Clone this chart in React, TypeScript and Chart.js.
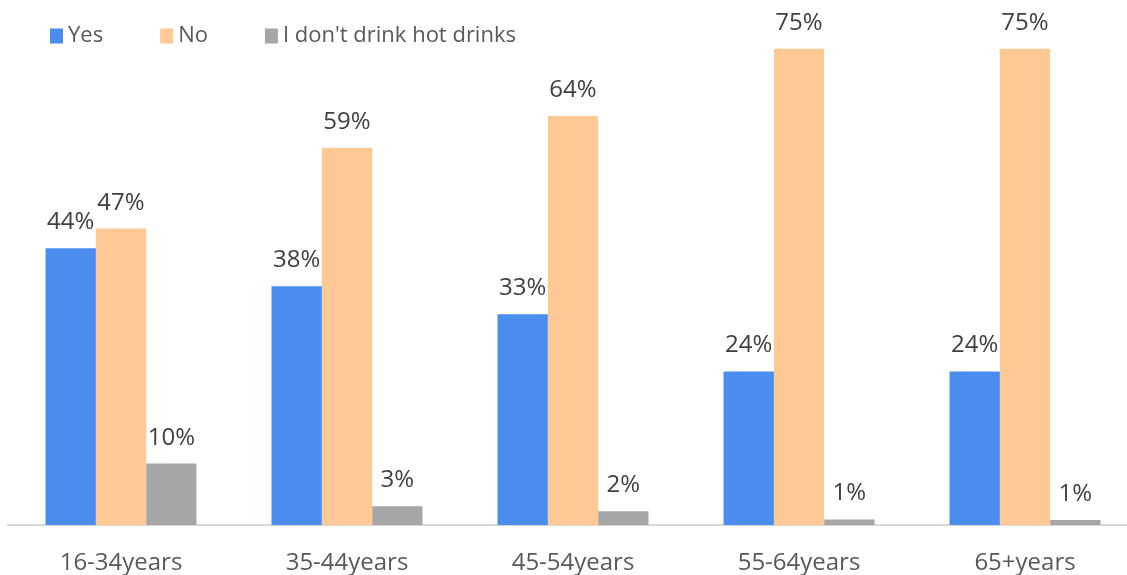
import React, { useEffect, useRef } from "react";
import { Chart, registerables } from "chart.js";

Chart.register(...registerables);

const categories = ["16-34years", "35-44years", "45-54years", "55-64years", "65+years"];
const yesValues = [43.6, 37.6, 33.2, 24.2, 24.2];
const noValues = [46.7, 59.4, 64.4, 75, 75];
const noHotValues = [9.7, 3.0, 2.2, 0.9, 0.8];
const seriesNames = ["Yes", "No", "I don't drink hot drinks"];
const seriesColors = ["#4A8DEE", "#FFC995", "#A6A6A6"];

const FONT = "'Open Sans', 'Noto Sans', sans-serif";

const valueLabels = {
  id: "valueLabels",
  afterDatasetsDraw(chart: any) {
    const ctx = chart.ctx;
    ctx.save();
    ctx.font = `24px ${FONT}`;
    ctx.fillStyle = "#404040";
    ctx.textAlign = "center";
    ctx.textBaseline = "alphabetic";
    chart.data.datasets.forEach((ds: any, i: number) => {
      const meta = chart.getDatasetMeta(i);
      meta.data.forEach((el: any, j: number) => {
        const v = ds.data[j];
        ctx.fillText(`${Math.round(v)}%`, el.x, el.y - 19);
      });
    });
    ctx.restore();
  },
};

const topLegend = {
  id: "topLegend",
  afterDraw(chart: any) {
    const ctx = chart.ctx;
    ctx.save();
    ctx.font = `22px ${FONT}`;
    ctx.textBaseline = "middle";
    ctx.textAlign = "left";
    let x = 50;
    const cy = 36;
    chart.data.datasets.forEach((ds: any) => {
      ctx.fillStyle = ds.backgroundColor;
      ctx.fillRect(x, cy - 7.5, 13, 15);
      ctx.fillStyle = "#595959";
      ctx.fillText(ds.label, x + 18, cy);
      x += 18 + ctx.measureText(ds.label).width + 57;
    });
    ctx.restore();
  },
};

export default function App() {
  const ref = useRef<HTMLCanvasElement | null>(null);
  useEffect(() => {
    if (!ref.current) return;
    const chart = new Chart(ref.current, {
      type: "bar",
      data: {
        labels: categories,
        datasets: [yesValues, noValues, noHotValues].map((d, i) => ({
          label: seriesNames[i],
          data: d,
          backgroundColor: seriesColors[i],
          borderWidth: 0,
          categoryPercentage: 0.668,
          barPercentage: 1,
        })),
      },
      options: {
        animation: false,
        responsive: true,
        maintainAspectRatio: false,
        layout: { padding: { left: 8, right: 2, top: 17, bottom: 0 } },
        plugins: {
          tooltip: { enabled: false },
          legend: { display: false },
        },
        scales: {
          x: {
            grid: { display: false, drawTicks: false },
            border: { display: true, color: "#D9D9D9", width: 2 },
            ticks: { color: "#595959", padding: 24, font: { family: FONT, size: 24 } },
          },
          y: {
            display: false,
            min: 0,
            max: 80,
            grid: { display: false },
          },
        },
      },
      plugins: [valueLabels, topLegend],
    });
    return () => chart.destroy();
  }, []);
  return (
    <div style={{ position: "fixed", left: 0, top: 0, width: 1127, height: 575, overflow: "hidden", background: "#fff" }}>
      <div style={{ position: "relative", width: 1140, height: 602 }}>
        <canvas ref={ref} />
      </div>
    </div>
  );
}
